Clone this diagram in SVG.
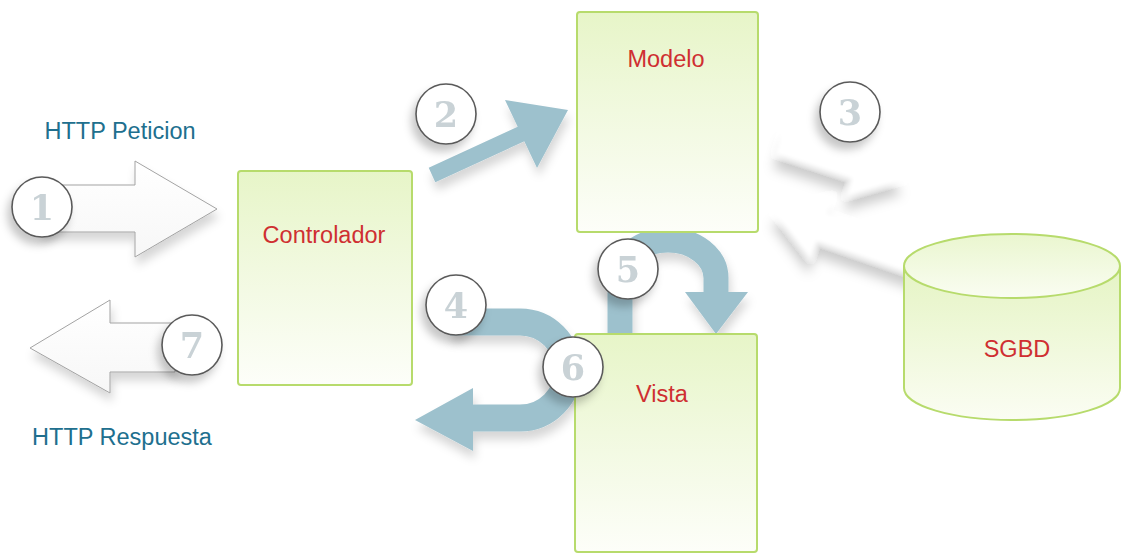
<svg xmlns="http://www.w3.org/2000/svg" width="1121" height="554" viewBox="0 0 1121 554">
  <defs>
    <linearGradient id="boxFill" x1="0" y1="0" x2="0" y2="1">
      <stop offset="0" stop-color="#e7f5c8"/>
      <stop offset="0.45" stop-color="#f1f9df"/>
      <stop offset="1" stop-color="#fdfef9"/>
    </linearGradient>
    <linearGradient id="cylFill" x1="0" y1="0" x2="0" y2="1">
      <stop offset="0" stop-color="#e5f4c4"/>
      <stop offset="1" stop-color="#fbfdf3"/>
    </linearGradient>
    <linearGradient id="capFill" x1="0" y1="0" x2="0" y2="1">
      <stop offset="0" stop-color="#eaf6cf"/>
      <stop offset="1" stop-color="#fafdf2"/>
    </linearGradient>
    <linearGradient id="hollowFill" x1="0" y1="0" x2="0" y2="1">
      <stop offset="0" stop-color="#ffffff"/>
      <stop offset="1" stop-color="#f7f7f7"/>
    </linearGradient>
    <filter id="shadow" x="-30%" y="-30%" width="160%" height="170%">
      <feDropShadow dx="2" dy="8" stdDeviation="5" flood-color="#000" flood-opacity="0.16"/>
    </filter>
    <filter id="circleShadow" x="-40%" y="-40%" width="180%" height="190%">
      <feDropShadow dx="-4" dy="7" stdDeviation="4" flood-color="#000" flood-opacity="0.22"/>
    </filter>
    <filter id="ghost" x="-40%" y="-60%" width="180%" height="220%">
      <feGaussianBlur in="SourceAlpha" stdDeviation="6" result="b"/>
      <feOffset in="b" dx="-2" dy="14" result="o"/>
      <feFlood flood-color="#000" flood-opacity="0.2"/>
      <feComposite in2="o" operator="in" result="s"/>
      <feGaussianBlur in="SourceGraphic" stdDeviation="2" result="g"/>
      <feMerge><feMergeNode in="s"/><feMergeNode in="g"/></feMerge>
    </filter>
    <style>
      .box { fill: url(#boxFill); stroke: #b7db6c; stroke-width: 2; }
      .label { font-family: "Liberation Sans", Arial, sans-serif; font-size: 23.5px; fill: #cf2f31; text-anchor: middle; }
      .http { font-family: "Liberation Sans", Arial, sans-serif; font-size: 23.5px; fill: #206f8e; text-anchor: middle; }
      .flow { fill: #9dc1cd; }
      .flowLine { fill: none; stroke: #9dc1cd; }
      .hollow { fill: url(#hollowFill); stroke: #a3a3a3; stroke-width: 1; }
      .ghost { fill: #ffffff; }
      .step circle { fill: #ffffff; stroke: #5a5a5a; stroke-width: 1.6; }
      .step text { font-family: "DejaVu Serif", "Liberation Serif", serif; font-weight: bold; font-size: 35px; fill: #c9d2d6; text-anchor: middle; }
    </style>
  </defs>

  <rect width="1121" height="554" fill="#ffffff"/>

  <!-- connectors -->
  <g id="connectors">
    <!-- 1: incoming request -->
    <polygon class="hollow" filter="url(#shadow)" points="40,185 135,185 135,161 217,209 135,257 135,232 40,232"/>
    <!-- 7: outgoing response -->
    <polygon class="hollow" filter="url(#shadow)" points="175,323 110,323 110,300 30,348 110,393 110,372 175,372"/>
    <!-- 2: controller to model -->
    <polygon class="flow" filter="url(#shadow)" points="428.7,167.7 517.7,126.7 505,100 568,110 537,168 524.3,141.3 435.3,182.3"/>
    <!-- 3: model <-> database (faint) -->
    <g filter="url(#ghost)">
      <polygon class="ghost" transform="translate(780,140) rotate(18)" points="0,-15 80,-15 80,-34 130,0 80,34 80,15 0,15"/>
      <polygon class="ghost" transform="translate(922,262) rotate(199)" points="0,-15 106,-15 106,-34 158,0 106,34 106,15 0,15"/>
    </g>
    <!-- 5: model to view -->
    <g filter="url(#shadow)">
      <path class="flowLine" stroke-width="25" d="M 620 336 V 278 A 48 38 0 0 1 716 278 V 294"/>
      <polygon class="flow" points="685,292 748,292 716,334"/>
    </g>
    <!-- 4 / 6: view back to controller -->
    <g filter="url(#shadow)">
      <path class="flowLine" stroke-width="27" d="M 450 322 H 520 A 48 48 0 0 1 520 418 H 470"/>
      <polygon class="flow" points="473,388 415,420 473,451"/>
    </g>
  </g>

  <!-- nodes -->
  <g id="controlador">
    <rect class="box" x="238" y="171" width="174" height="214" rx="3"/>
    <text class="label" x="324" y="243">Controlador</text>
  </g>
  <g id="modelo">
    <rect class="box" x="577" y="12" width="181" height="220" rx="3"/>
    <text class="label" x="666" y="67">Modelo</text>
  </g>
  <g id="vista">
    <rect class="box" x="575" y="334" width="182" height="218" rx="3"/>
    <text class="label" x="662" y="402">Vista</text>
  </g>
  <g id="sgbd">
    <path d="M 904 266 V 388 A 108 32 0 0 0 1120 388 V 266" fill="url(#cylFill)" stroke="#b7db6c" stroke-width="2"/>
    <ellipse cx="1012" cy="266" rx="108" ry="32" fill="url(#capFill)" stroke="#b7db6c" stroke-width="2"/>
    <text class="label" x="1017" y="357">SGBD</text>
  </g>

  <!-- request / response captions -->
  <g id="http-peticion">
    <text class="http" x="120" y="139">HTTP Peticion</text>
  </g>
  <g id="http-respuesta">
    <text class="http" x="122" y="445">HTTP Respuesta</text>
  </g>

  <!-- numbered steps -->
  <g id="steps" filter="url(#circleShadow)">
    <g class="step"><circle cx="42" cy="207" r="30"/><text x="42" y="220">1</text></g>
    <g class="step"><circle cx="446" cy="114" r="30"/><text x="446" y="127">2</text></g>
    <g class="step"><circle cx="850" cy="112" r="30"/><text x="850" y="125">3</text></g>
    <g class="step"><circle cx="456" cy="305" r="30"/><text x="456" y="318">4</text></g>
    <g class="step"><circle cx="628" cy="269" r="30"/><text x="628" y="282">5</text></g>
    <g class="step"><circle cx="573" cy="367" r="30"/><text x="573" y="380">6</text></g>
    <g class="step"><circle cx="192" cy="345" r="30"/><text x="192" y="358">7</text></g>
  </g>
</svg>
